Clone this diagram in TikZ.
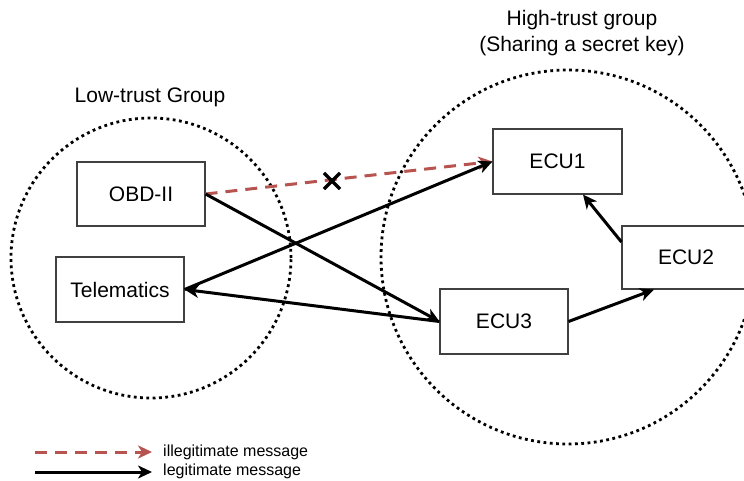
\documentclass[tikz,border=0pt]{standalone}
\usepackage{fontspec}
\setmainfont{Liberation Sans}
\usetikzlibrary{arrows.meta,shapes.misc}
\definecolor{badred}{RGB}{184,84,80}
\begin{document}
\begin{tikzpicture}[x=1pt,y=-1pt,
  box/.style={draw=black!75,line width=1.1pt,rectangle,minimum width=128pt,minimum height=64pt,inner sep=0pt,font=\fontsize{21}{25}\selectfont},
  group/.style={draw=black,line width=2.8pt,dash pattern=on 2.8pt off 3.5pt},
  tip/.style={-{Stealth[length=14pt,width=13pt,inset=4pt]}},
  legit/.style={tip,line width=3pt,black},
  illegit/.style={tip,line width=3pt,badred,dash pattern=on 12pt off 8pt},
  lbl/.style={font=\fontsize{21}{26}\selectfont,align=center},
  legendtext/.style={font=\fontsize{16}{18}\selectfont,anchor=west,inner sep=0pt}]
\useasboundingbox (0,0) rectangle (744,481);
\clip (0,0) rectangle (744,481);

% trust groups
\node[circle,group,minimum size=280pt,inner sep=0pt] (low) at (151,258) {};
\node[circle,group,minimum size=374pt,inner sep=0pt] (high) at (568,257) {};
\node[lbl] (lowlbl) at (150,97) {Low-trust Group};
\node[lbl] (highlbl) at (582,33) {High-trust group\\(Sharing a secret key)};

% units
\node[box] (obd) at (141,194) {OBD-II};
\node[box,minimum height=65pt] (tele) at (120,289.5) {Telematics};
\node[box,minimum width=129pt,minimum height=65pt] (ecu1) at (557.5,161.5) {ECU1};
\node[box,minimum height=63pt] (ecu2) at (686,257.5) {ECU2};
\node[box,minimum height=65pt] (ecu3) at (504,321.5) {ECU3};

% messages
\draw[illegit] (obd.east) -- (ecu1.west);
\node[cross out,draw,line width=3.2pt,minimum size=13pt,inner sep=0pt] (blocked) at (332,181) {};
\draw[legit] (obd.east) -- (ecu3.west);
\draw[legit] (tele.east) -- (ecu1.west);
\draw[legit] (ecu3.west) -- (tele.east);
\draw[legit] (ecu3.east) -- ([xshift=-32pt]ecu2.south);
\draw[legit] ([yshift=15.5pt]ecu2.west) -- ([xshift=25.5pt]ecu1.south);

% legend
\coordinate (la) at (35,452);
\coordinate (lb) at (152,452);
\coordinate (lc) at (35,472);
\coordinate (ld) at (152,472);
\draw[illegit] (la) -- (lb);
\draw[legit] (lc) -- (ld);
\node[legendtext] (illegitlbl) at (163,452) {illegitimate message};
\node[legendtext] (legitlbl) at (163,471) {legitimate message};
\end{tikzpicture}
\end{document}
